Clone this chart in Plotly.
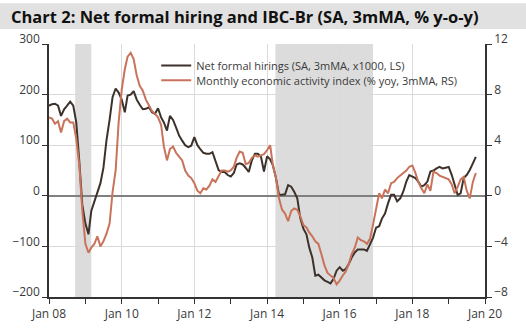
import pandas as pd
import plotly.graph_objects as go

start_month = "2008-01-01"

hiring = [178, 181, 182, 178, 158, 171, 178, 186, 178, 145, 67, -18,
          -55, -76, -30, -12, 5, 25, 55, 110, 150, 195, 212, 204,
          190, 165, 198, 200, 207, 190, 180, 171, 172, 175, 165, 162,
          173, 155, 145, 129, 158, 150, 135, 119, 109, 100, 96, 99,
          116, 100, 92, 85, 83, 83, 86, 67, 51, 47, 47, 41,
          38, 45, 62, 64, 62, 55, 47, 70, 83, 83, 77, 48,
          78, 72, 60, 35, 2, 2, 3, 21, 18, 8, -5, -44,
          -65, -76, -102, -122, -158, -156, -161, -167, -170, -173, -164, -148,
          -141, -148, -145, -135, -122, -112, -106, -106, -106, -109, -96, -83,
          -63, -60, -45, -35, -15, 2, 2, -11, -5, 8, 28, 41,
          38, 35, 28, 18, 21, 28, 48, 50, 54, 57, 54, 56,
          57, 41, 21, 2, 5, 35, 41, 51, 64, 77]

activity = [6.2, 6.1, 5.7, 5.9, 5.0, 5.9, 6.1, 5.8, 5.8, 4.5, 2.4, -1.2,
            -3.8, -4.5, -4.1, -3.8, -3.2, -4.0, -3.6, -3.0, -2.2, 0.3, 2.0, 5.8,
            8.4, 10.0, 11.0, 11.3, 10.8, 9.5, 8.7, 8.3, 7.6, 7.1, 6.7, 6.5,
            6.2, 5.6, 3.9, 2.8, 3.7, 3.9, 3.4, 3.1, 2.8, 2.0, 1.6, 1.4,
            1.0, 0.4, 0.2, 0.6, 0.5, 0.8, 1.3, 1.1, 1.6, 2.0, 2.0, 1.9,
            2.0, 2.3, 3.0, 3.5, 3.4, 2.5, 2.6, 3.0, 3.2, 3.1, 3.2, 3.3,
            3.6, 4.0, 2.4, 1.4, -0.2, -1.1, -1.4, -2.0, -1.2, -1.0, -1.1, -1.6,
            -2.3, -2.5, -2.9, -3.2, -3.6, -3.8, -4.6, -5.5, -6.1, -6.3, -6.5, -7.0,
            -6.7, -6.3, -6.0, -5.4, -4.6, -4.1, -3.3, -3.5, -3.6, -3.8, -3.4, -2.3,
            -1.0, 0.2, -0.2, 0.5, 0.2, 1.0, 1.1, 1.4, 1.6, 1.8, 2.0, 2.3,
            2.4, 1.8, 1.1, 0.6, 0.2, 0.9, 0.4, 1.9, 1.8, 1.6, 1.5, 1.4,
            1.3, 0.9, 0.2, 0.7, 1.3, 1.5, 0.4, -0.2, 1.1, 1.8]

dates = pd.date_range(start_month, periods=len(hiring), freq="MS")

shaded = [("2008-09-20", "2009-03-01"), ("2014-03-26", "2016-12-01")]

x_tickvals = ["2008-01-01", "2010-01-01", "2012-01-01", "2014-01-01",
              "2016-01-01", "2018-01-01", "2020-01-01"]
left_ticks = [-200, -100, 0, 100, 200, 300]
right_ticks = [-8, -4, 0, 4, 8, 12]

title_text = "Chart 2: Net formal hiring and IBC-Br (SA, 3mMA, % y-o-y)"
name_h = "Net formal hirings (SA, 3mMA, x1000, LS)"
name_a = "Monthly economic activity index (% yoy, 3mMA, RS)"

DARK = "#3d322b"
ORANGE = "#c8735a"
FONT = "Open Sans"
TXT = "#3a3a3a"

fig = go.Figure()
fig.add_trace(go.Scatter(x=dates, y=hiring, name=name_h, mode="lines",
                         line=dict(color=DARK, width=2), yaxis="y", legend="legend"))
fig.add_trace(go.Scatter(x=dates, y=activity, name=name_a, mode="lines",
                         line=dict(color=ORANGE, width=2), yaxis="y2", legend="legend2"))

shapes = []
for a, b in shaded:
    shapes.append(dict(type="rect", xref="x", yref="paper", x0=a, x1=b, y0=0, y1=1,
                       fillcolor="#dcdcdc", line=dict(width=0), layer="below"))
# title band
shapes.append(dict(type="rect", xref="paper", yref="paper", x0=-0.2, x1=1.2,
                   y0=1 + (44 - 29) / 255, y1=1 + (44 - 3) / 255,
                   fillcolor="#e1e1e1", line=dict(width=0), layer="below"))

leg_common = dict(xanchor="left", yanchor="middle", bgcolor="rgba(0,0,0,0)",
                  font=dict(size=11, color=TXT), itemwidth=30)

fig.update_layout(
    width=526, height=334,
    margin=dict(l=47, r=41, t=44, b=35),
    paper_bgcolor="white", plot_bgcolor="white",
    font=dict(family=FONT, size=12, color=TXT),
    shapes=shapes,
    showlegend=True,
    legend=dict(x=0.2459, y=1 - (65.7 - 44) / 255, **leg_common),
    legend2=dict(x=0.2459, y=1 - (80.5 - 44) / 255, **leg_common),
    annotations=[dict(text="<b>" + title_text + "</b>", xref="paper", yref="paper",
                      x=-(47 - 7) / 438.6, y=1 + (44 - 16) / 255, xanchor="left",
                      yanchor="middle", showarrow=False,
                      font=dict(family=FONT, size=16.5, color="#111111"))],
    xaxis=dict(type="date", range=["2008-01-01", "2020-01-01"],
               tickvals=x_tickvals, tickformat="%b %y",
               ticks="outside", ticklen=5, tickcolor="#333333",
               showgrid=True, gridcolor="#dadada", gridwidth=1,
               showline=True, linecolor="#333333", linewidth=1.5,
               minor=dict(dtick="M12", ticks="outside", ticklen=5, tickcolor="#333333",
                          showgrid=False),
               zeroline=False, tickfont=dict(size=12)),
    yaxis=dict(range=[-200, 300], tickvals=left_ticks,
               ticks="outside", ticklen=5, tickcolor="#333333",
               showgrid=True, gridcolor="#dadada", gridwidth=1,
               zeroline=True, zerolinecolor="#808080", zerolinewidth=1.5,
               showline=True, linecolor="#333333", linewidth=1.5,
               ticklabelshift=-5, tickfont=dict(size=12)),
    yaxis2=dict(range=[-8, 12], tickvals=right_ticks, overlaying="y", side="right",
                ticks="outside", ticklen=5, tickcolor="#333333",
                showgrid=False, zeroline=False,
                showline=True, linecolor="#333333", linewidth=1.5,
                ticklabelshift=-5, tickfont=dict(size=12)),
)

fig.write_html("out.html")
